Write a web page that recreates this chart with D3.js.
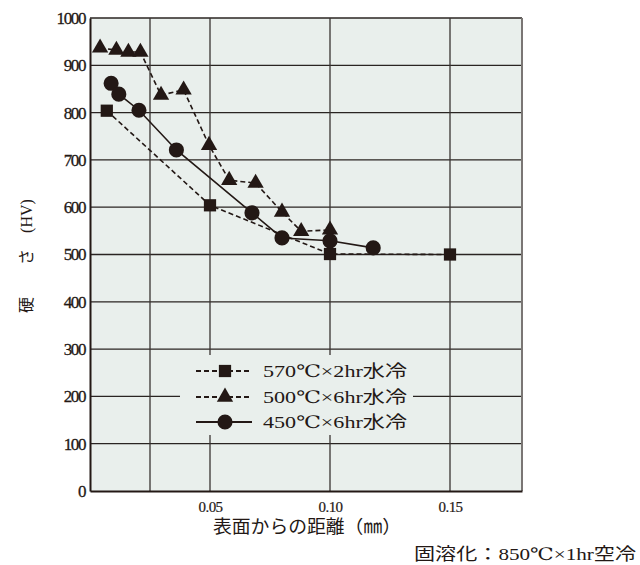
<!DOCTYPE html>
<html><head><meta charset="utf-8">
<script src="https://cdn.jsdelivr.net/npm/d3@7"></script>
<style>
body{margin:0;background:#fff;}
</style></head>
<body><svg id="c" width="640" height="565"></svg>
<script>
// ---- data ----
const yTicks = [0,100,200,300,400,500,600,700,800,900,1000];
const xTickLabels = [0.05,0.10,0.15];
const xGrid = [0.025,0.05,0.10,0.15];

const seriesNames = ["570℃×2hr水冷","500℃×6hr水冷","450℃×6hr水冷"];
const sqDist = [0.007,0.05,0.10,0.15];
const sqHV   = [804,604,501,500];
const triDist = [0.0042,0.011,0.016,0.021,0.0296,0.039,0.0496,0.058,0.069,0.080,0.088,0.100];
const triHV   = [937,932,928,928,837,848,731,657,651,590,549,552];
const cirDist = [0.0088,0.012,0.0204,0.036,0.0675,0.080,0.100,0.118];
const cirHV   = [862,839,805,721,588,535,529,514];

const yLabel = "硬　　さ　(HV)";
const xLabel = "表面からの距離（㎜）";
const note = "固溶化：850℃×1hr空冷";

// ---- drawing ----
const SERIF = "'Liberation Serif','DejaVu Serif','Noto Sans CJK JP',serif";
const svg = d3.select("#c");
const x = d3.scaleLinear().domain([0,0.18]).range([90,522]);
const y = d3.scaleLinear().domain([0,1000]).range([491,18]);
const ink = "#231815";
const bg = "#e9efec";

svg.append("rect").attr("x",x(0)).attr("y",y(1000)).attr("width",x(0.18)-x(0)).attr("height",y(0)-y(1000)).attr("fill",bg);

// horizontal grid
svg.append("g").selectAll("line").data(yTicks.filter(d=>d>0)).join("line")
  .attr("x1",x(0)).attr("x2",x(0.18)).attr("y1",d=>y(d)).attr("y2",d=>y(d))
  .attr("stroke","#2a2422").attr("stroke-width",1.3);
// vertical grid
svg.append("g").selectAll("line").data(xGrid).join("line")
  .attr("x1",d=>x(d)).attr("x2",d=>x(d)).attr("y1",y(0)).attr("y2",y(1000))
  .attr("stroke","#3a3432").attr("stroke-width",1.3);
// right edge
svg.append("line").attr("x1",x(0.18)).attr("x2",x(0.18)).attr("y1",y(0)).attr("y2",y(1000))
  .attr("stroke","#7a7674").attr("stroke-width",2);

// axes
const yAxis = d3.axisLeft(y).tickValues(yTicks).tickSize(0).tickPadding(5).tickFormat(d3.format("d"));
const gy = svg.append("g").attr("transform",`translate(${x(0)},0)`).call(yAxis)
  .attr("font-family",SERIF);
gy.select(".domain").attr("stroke",ink).attr("stroke-width",2);
gy.selectAll("text").attr("font-size",17).attr("fill",ink).attr("letter-spacing","-1.4")
  .attr("stroke",ink).attr("stroke-width",0.3);

const xAxis = d3.axisBottom(x).tickValues(xTickLabels).tickSize(0).tickPadding(10).tickFormat(d3.format(".2f"));
const gx = svg.append("g").attr("transform",`translate(0,${y(0)})`).call(xAxis)
  .attr("font-family",SERIF);
gx.select(".domain").attr("stroke",ink).attr("stroke-width",2);
gx.selectAll("text").attr("font-size",15).attr("fill",ink).attr("letter-spacing","-0.6")
  .attr("stroke",ink).attr("stroke-width",0.2);

// legend background
svg.append("rect").attr("x",180).attr("y",355).attr("width",233).attr("height",80).attr("fill",bg);

// series
const series = [
  {dist:sqDist, hv:sqHV, dash:"5,3", sym:d3.symbolSquare, size:150},
  {dist:triDist, hv:triHV, dash:"5,3", sym:d3.symbolTriangle, size:115},
  {dist:cirDist, hv:cirHV, dash:null, sym:d3.symbolCircle, size:180}
];
const line = d3.line().x(d=>x(d[0])).y(d=>y(d[1]));
series.forEach(s=>{
  const pts = s.dist.map((d,i)=>[d,s.hv[i]]);
  svg.append("path").attr("d",line(pts)).attr("fill","none").attr("stroke",ink)
    .attr("stroke-width",1.6).attr("stroke-dasharray",s.dash);
  svg.append("g").selectAll("path").data(pts).join("path")
    .attr("transform",d=>`translate(${x(d[0])},${y(d[1])})`)
    .attr("d",d3.symbol().type(s.sym).size(s.size)).attr("fill",ink);
});

// legend
const legY = [371,397,422];
series.forEach((s,i)=>{
  const g = svg.append("g").attr("transform",`translate(0,${legY[i]})`);
  g.append("line").attr("x1",196).attr("x2",252).attr("y1",0).attr("y2",0)
    .attr("stroke",ink).attr("stroke-width",2).attr("stroke-dasharray",s.dash);
  g.append("path").attr("transform","translate(225,0)")
    .attr("d",d3.symbol().type(s.sym).size(s.size)).attr("fill",ink);
  g.append("text").attr("x",263).attr("y",6).attr("font-size",17).attr("font-family",SERIF).attr("fill",ink)
    .attr("textLength",144).attr("lengthAdjust","spacingAndGlyphs").text(seriesNames[i]);
});

// axis titles
svg.append("text").attr("transform","translate(32,256) rotate(-90)").attr("text-anchor","middle")
  .attr("font-family",SERIF).attr("fill",ink).attr("font-size",16).text(yLabel);
svg.append("text").attr("x",307).attr("y",533).attr("text-anchor","middle").attr("font-size",18)
  .attr("font-family",SERIF).attr("fill",ink)
  .attr("textLength",188).attr("lengthAdjust","spacingAndGlyphs").text(xLabel);
svg.append("text").attr("x",636).attr("y",560).attr("text-anchor","end").attr("font-size",17)
  .attr("font-family",SERIF).attr("fill",ink)
  .attr("textLength",222).attr("lengthAdjust","spacingAndGlyphs").text(note);
</script></body></html>
